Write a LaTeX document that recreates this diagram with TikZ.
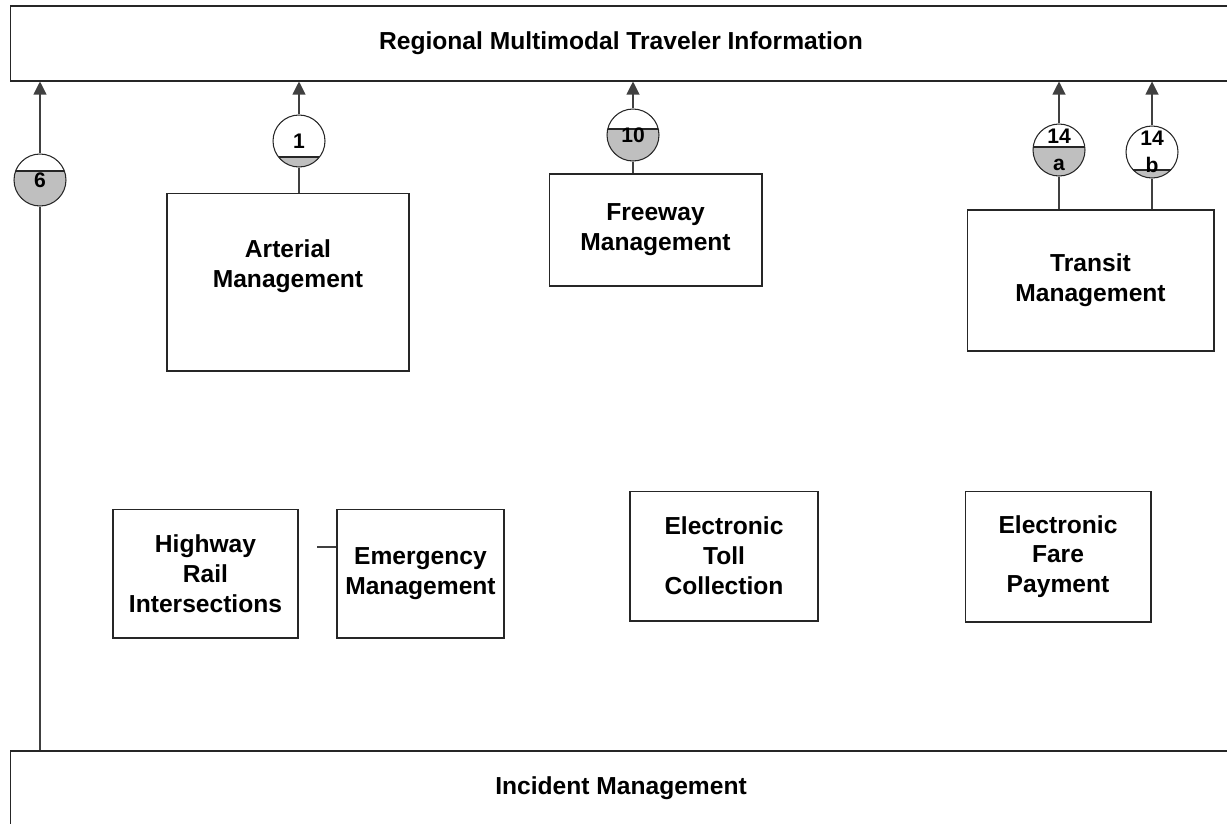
\documentclass[tikz,border=0pt]{standalone}
\usepackage{fontspec}
\setmainfont{Liberation Sans}
\usetikzlibrary{arrows.meta,positioning}

\begin{document}
\begin{tikzpicture}[x=0.02cm, y=-0.02cm,
    box/.style={draw=black!85, line width=0.6pt, align=center, inner sep=0pt, font=\fontsize{14}{17}\selectfont\bfseries},
    badge/.style={circle, draw=black!85, line width=0.6pt, minimum size=1.04cm, inner sep=0pt, align=center, font=\fontsize{12}{15}\selectfont\bfseries},
    link/.style={draw=black!75, line width=0.6pt},
    arr/.style={link, -{Triangle[length=0.26cm, width=0.26cm]}}
]
\useasboundingbox (0,0) rectangle (1227,823);
\clip (0,0) rectangle (1227,823);

% wide bars
\node[box, minimum width=24.44cm, minimum height=1.5cm] (rmti) at (621,43.5) {Regional Multimodal Traveler Information};
\node[box, minimum width=24.44cm, minimum height=1.5cm] (inc) at (621,788.5) {Incident Management};

% subsystems
\node[box, minimum width=4.84cm, minimum height=3.56cm] (art) at (288,282) {};
\node[align=center, font=\fontsize{14}{17}\selectfont\bfseries] (artlbl) at (288,266) {Arterial\\Management};
\node[box, minimum width=4.26cm, minimum height=2.24cm] (fwy) at (655.5,230) {Freeway\\Management};
\node[box, minimum width=4.94cm, minimum height=2.82cm] (trn) at (1090.5,280.5) {Transit\\Management};
\node[box, minimum width=3.7cm, minimum height=2.58cm] (hri) at (205.5,573.5) {Highway\\Rail\\Intersections};
\node[box, minimum width=3.34cm, minimum height=2.58cm] (emg) at (420.5,573.5) {Emergency\\Management};
\node[box, minimum width=3.76cm, minimum height=2.6cm] (etc) at (724,556) {Electronic\\Toll\\Collection};
\node[box, minimum width=3.72cm, minimum height=2.62cm] (efp) at (1058,556.5) {Electronic\\Fare\\Payment};

% shaded part of the badges
\foreach \x/\y/\cy in {40/180/171, 299/141/157, 633/135/129, 1059/150/147, 1152/152/170}{
  \begin{scope}
    \clip (\x,\y) circle (0.52cm);
    \filldraw[fill=black!25, draw=black!85, line width=0.6pt] (\x-30,\cy) rectangle (\x+30,\y+30);
  \end{scope}
}

% badges
\node[badge] (c6) at (40,180) {6};
\node[badge] (c1) at (299,141) {1};
\node[badge] (c10) at (633,135) {10};
\node[badge] (c14a) at (1059,150) {14\\a};
\node[badge] (c14b) at (1152,152) {14\\b};

% flows
\draw[link] (inc.north -| c6) -- (c6);
\draw[arr] (c6) -- (c6 |- rmti.south);
\draw[link] (art.north -| c1) -- (c1);
\draw[arr] (c1) -- (c1 |- rmti.south);
\draw[link] (fwy.north -| c10) -- (c10);
\draw[arr] (c10) -- (c10 |- rmti.south);
\draw[link] (trn.north -| c14a) -- (c14a);
\draw[arr] (c14a) -- (c14a |- rmti.south);
\draw[link] (trn.north -| c14b) -- (c14b);
\draw[arr] (c14b) -- (c14b |- rmti.south);

\coordinate (stub) at (317,547);
\draw[link] (stub) -- (stub -| emg.west);
\end{tikzpicture}
\end{document}
